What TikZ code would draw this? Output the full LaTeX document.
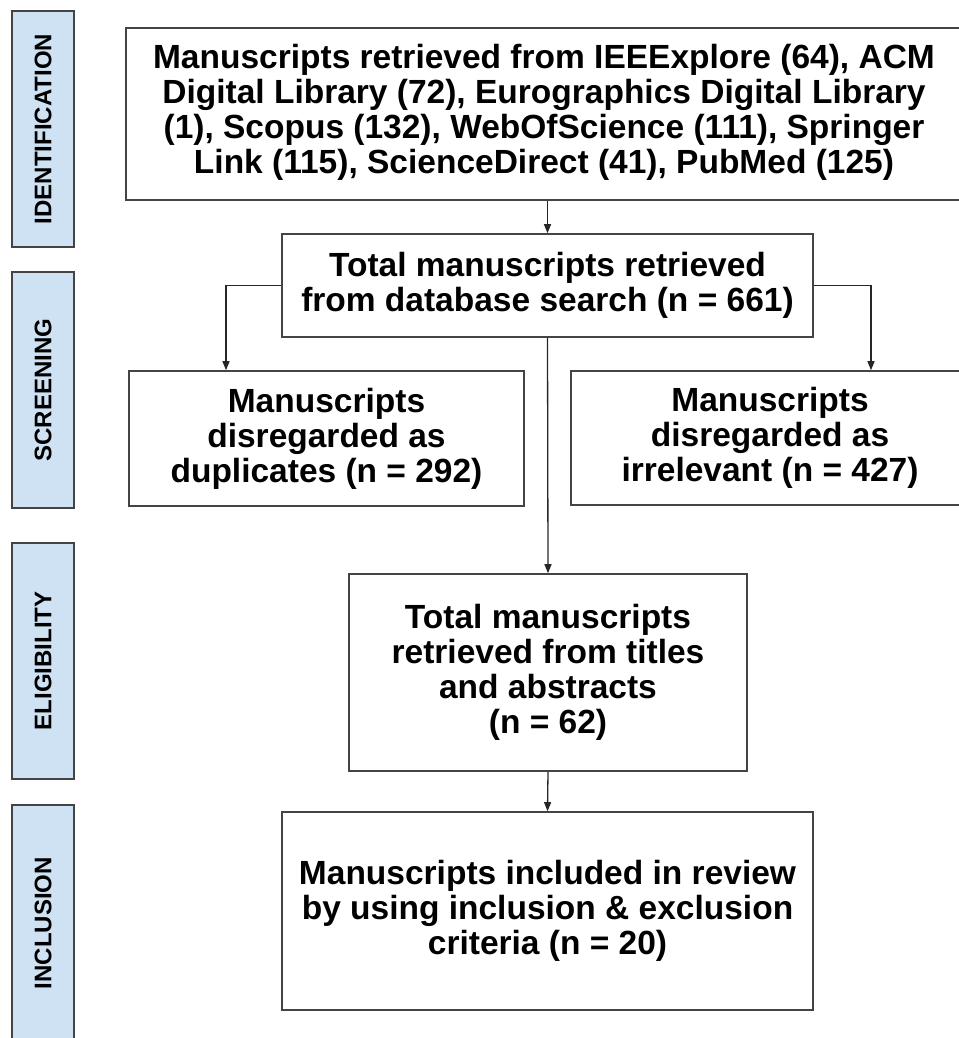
\documentclass[tikz,border=0pt]{standalone}
\usepackage{fontspec}
\setmainfont{Liberation Sans}
\usetikzlibrary{arrows.meta,calc}
\definecolor{phasefill}{HTML}{CFE2F3}
\definecolor{edgegray}{HTML}{444444}
\begin{document}
\begin{tikzpicture}[x=1pt,y=-1pt,
  box/.style={draw=edgegray,line width=1.6pt,fill=white,align=center,inner sep=0pt,
    font=\fontsize{33.5}{35}\selectfont\bfseries},
  phase/.style={draw=edgegray,line width=1.6pt,fill=phasefill,inner sep=0pt},
  phasetext/.style={rotate=90,font=\fontsize{24}{26}\selectfont\bfseries},
  arr/.style={draw=black!85,line width=1.3pt,-{Triangle[length=9pt,width=7pt]}}]
\useasboundingbox (0,0) rectangle (958,1038);
% phase labels
\node[phase,minimum width=62pt,minimum height=236pt] (p1) at (43,129) {};
\node[phasetext] (t1) at (p1) {IDENTIFICATION};
\node[phase,minimum width=62pt,minimum height=236pt] (p2) at (43,390) {};
\node[phasetext] (t2) at (p2) {SCREENING};
\node[phase,minimum width=62pt,minimum height=236pt] (p3) at (43,661) {};
\node[phasetext] (t3) at (p3) {ELIGIBILITY};
\node[phase,minimum width=62pt,minimum height=236pt] (p4) at (43,923) {};
\node[phasetext] (t4) at (p4) {INCLUSION};
% boxes
\node[box,minimum width=844pt,minimum height=172pt] (b1) at (548,114) {};
\node[align=center,font=\fontsize{33.5}{35}\selectfont\bfseries] (t5) at (544,112)
  {Manuscripts retrieved from IEEExplore (64), ACM\\Digital Library (72), Eurographics Digital Library\\(1), Scopus (132), WebOfScience (111), Springer\\Link (115), ScienceDirect (41), PubMed (125)};
\node[box,minimum width=531pt,minimum height=103pt] (b2) at (547.5,285.5)
  {Total manuscripts retrieved\\from database search (n = 661)};
\node[box,minimum width=395pt,minimum height=135pt] (b3) at (326.5,438.5)
  {Manuscripts\\disregarded as\\duplicates (n = 292)};
\node[box,minimum width=398pt,minimum height=134pt] (b4) at (770,438)
  {Manuscripts\\disregarded as\\irrelevant (n = 427)};
\node[box,minimum width=398pt,minimum height=197pt] (b5) at (548,672.5)
  {Total manuscripts\\retrieved from titles\\and abstracts\\(n = 62)};
\node[box,minimum width=531pt,minimum height=198pt] (b6) at (547.5,911)
  {Manuscripts included in review\\by using inclusion \& exclusion\\criteria (n = 20)};
% connectors
\coordinate (cL) at (226,0);
\coordinate (cR) at (871,0);
\draw[arr] (b1.south -| b2.north) -- (b2.north);
\draw[arr] (b2.west) -| (b3.north -| cL);
\draw[arr] (b2.east) -| (b4.north -| cR);
\draw[arr] (b2.south) -- (b5.north);
\draw[arr] (b5.south) -- (b6.north);
\end{tikzpicture}
\end{document}
